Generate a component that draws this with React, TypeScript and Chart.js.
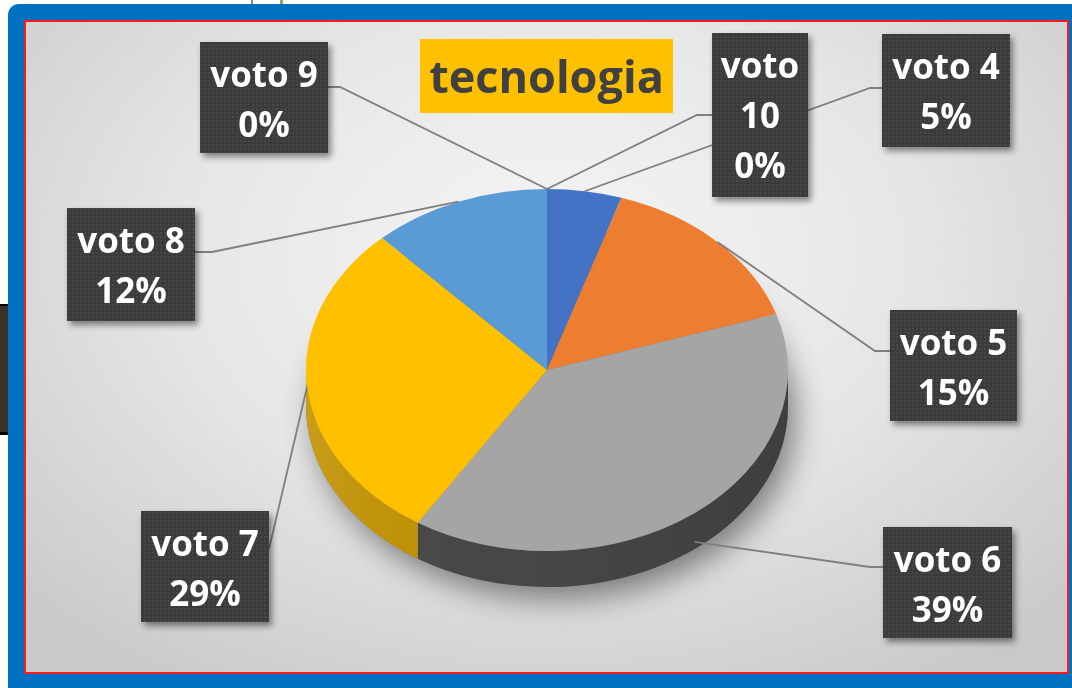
import React, { useEffect, useRef } from "react";
import { Chart, registerables } from "chart.js";

Chart.register(...registerables);

// ---------- data ----------
const categories = ["voto 4", "voto 5", "voto 6", "voto 7", "voto 8", "voto 9", "voto 10"];
const votePercent = [5, 15, 39, 29, 12, 0, 0];
const labelLines = [["voto 4"], ["voto 5"], ["voto 6"], ["voto 7"], ["voto 8"], ["voto 9"], ["voto", "10"]];
const chartTitle = "tecnologia";

// ---------- styles ----------
const sliceColors = ["#4472C4", "#ED7D31", "#A5A5A5", "#FFC000", "#5B9BD5", "#70AD47", "#264478"];
const sideColors = ["#2F5597", "#B35D22", "#474747", "#C29200", "#41719C", "#507E32", "#1B3056"];

// ---------- layout ----------
const TILT = 0.751;
const DEPTH = 36;
const PAD = { left: 306, right: 284, top: 129, bottom: 77 };
const TITLE_BOX = { x: 420, y: 39, w: 253, h: 74, baseline: 93 };
// one entry per category, same order
const labelBoxes = [
  { x: 882, y: 34, w: 128, h: 113, anchor: [882, 88], elbow: [870, 88], onSide: false },
  { x: 890, y: 310, w: 127, h: 111, anchor: [890, 351], elbow: [875, 351], onSide: false },
  { x: 883, y: 527, w: 129, h: 111, anchor: [883, 567], elbow: [870, 567], onSide: true },
  { x: 141, y: 511, w: 128, h: 111, anchor: [269, 549], elbow: null, onSide: false },
  { x: 67, y: 208, w: 128, h: 113, anchor: [195, 252], elbow: [212, 252], onSide: false },
  { x: 200, y: 42, w: 128, h: 111, anchor: [328, 87], elbow: [340, 87], onSide: false },
  { x: 712, y: 33, w: 96, h: 164, anchor: [712, 115], elbow: [697, 115], onSide: false },
];

function makeBoxPattern(ctx: CanvasRenderingContext2D) {
  const c = document.createElement("canvas");
  c.width = 4;
  c.height = 4;
  const p = c.getContext("2d")!;
  p.fillStyle = "#3b3b3b";
  p.fillRect(0, 0, 4, 4);
  p.fillStyle = "#474747";
  p.fillRect(0, 0, 2, 2);
  return ctx.createPattern(c, "repeat") || "#3b3b3b";
}

const pie3d = {
  id: "pie3d",
  beforeDatasetsDraw(chart: any) {
    const ctx: CanvasRenderingContext2D = chart.ctx;
    const arcs = chart.getDatasetMeta(0).data as any[];
    const cx = arcs[0].x;
    const cy = arcs[0].y;
    const r = arcs[0].outerRadius;
    const ry = r * TILT;

    // soft shadow under the pie
    ctx.save();
    ctx.shadowColor = "rgba(0,0,0,0.45)";
    ctx.shadowBlur = 30;
    ctx.shadowOffsetX = 8;
    ctx.shadowOffsetY = 12;
    ctx.fillStyle = "#777";
    ctx.beginPath();
    ctx.ellipse(cx, cy + DEPTH, r, ry, 0, 0, Math.PI * 2);
    ctx.fill();
    ctx.restore();

    // side walls (front half)
    arcs.forEach((arc: any, i: number) => {
      const s = Math.max(arc.startAngle, 0);
      const e = Math.min(arc.endAngle, Math.PI);
      if (e - s <= 1e-4) return;
      ctx.save();
      ctx.beginPath();
      ctx.ellipse(cx, cy, r, ry, 0, s, e, false);
      ctx.ellipse(cx, cy + DEPTH, r, ry, 0, e, s, true);
      ctx.closePath();
      ctx.fillStyle = sideColors[i];
      ctx.fill();
      const g = ctx.createLinearGradient(cx - r, 0, cx + r, 0);
      g.addColorStop(0, "rgba(255,255,255,0.10)");
      g.addColorStop(0.45, "rgba(0,0,0,0)");
      g.addColorStop(1, "rgba(0,0,0,0.12)");
      ctx.fillStyle = g;
      ctx.fill();
      ctx.restore();
    });

    // tilt the top surface
    ctx.save();
    ctx.translate(cx, cy);
    ctx.scale(1, TILT);
    ctx.translate(-cx, -cy);
  },
  afterDatasetsDraw(chart: any) {
    const ctx: CanvasRenderingContext2D = chart.ctx;
    ctx.restore();

    const arcs = chart.getDatasetMeta(0).data as any[];
    const values = chart.data.datasets[0].data as number[];
    const total = values.reduce((a, b) => a + b, 0);

    // leader lines
    ctx.save();
    ctx.strokeStyle = "#7f7f7f";
    ctx.lineWidth = 1.8;
    arcs.forEach((arc: any, i: number) => {
      const box = labelBoxes[i];
      const mid = (arc.startAngle + arc.endAngle) / 2;
      const tx = arc.x + arc.outerRadius * Math.cos(mid);
      let ty = arc.y + arc.outerRadius * Math.sin(mid) * TILT;
      if (box.onSide) ty += DEPTH * 0.8;
      ctx.beginPath();
      ctx.moveTo(box.anchor[0], box.anchor[1]);
      if (box.elbow) ctx.lineTo(box.elbow[0], box.elbow[1]);
      ctx.lineTo(tx, ty);
      ctx.stroke();
    });
    ctx.restore();

    // label boxes
    const pattern = makeBoxPattern(ctx);
    arcs.forEach((_arc: any, i: number) => {
      const box = labelBoxes[i];
      ctx.save();
      ctx.shadowColor = "rgba(0,0,0,0.45)";
      ctx.shadowBlur = 6;
      ctx.shadowOffsetX = 3;
      ctx.shadowOffsetY = 4;
      ctx.fillStyle = pattern as any;
      ctx.fillRect(box.x, box.y, box.w, box.h);
      ctx.restore();

      ctx.save();
      ctx.fillStyle = "#ffffff";
      ctx.font = "bold 35px 'Open Sans', sans-serif";
      ctx.textAlign = "center";
      ctx.textBaseline = "alphabetic";
      const pct = Math.round((values[i] / total) * 100) + "%";
      const lines = [...labelLines[i], pct];
      lines.forEach((t, j) => {
        ctx.fillText(t, box.x + box.w / 2, box.y + 45 + j * 50);
      });
      ctx.restore();
    });

    // title
    ctx.save();
    ctx.fillStyle = "#FFC000";
    ctx.fillRect(TITLE_BOX.x, TITLE_BOX.y, TITLE_BOX.w, TITLE_BOX.h);
    ctx.fillStyle = "#404040";
    ctx.font = "bold 45px 'Open Sans', sans-serif";
    ctx.textAlign = "center";
    ctx.textBaseline = "alphabetic";
    ctx.fillText(chartTitle, TITLE_BOX.x + TITLE_BOX.w / 2, TITLE_BOX.baseline);
    ctx.restore();
  },
};

export default function App() {
  const canvasRef = useRef<HTMLCanvasElement>(null);

  useEffect(() => {
    document.body.style.margin = "0";
    const chart = new Chart(canvasRef.current!, {
      type: "pie",
      data: {
        labels: categories,
        datasets: [
          {
            data: votePercent,
            backgroundColor: sliceColors,
            borderWidth: 0,
          },
        ],
      },
      options: {
        responsive: false,
        animation: false,
        devicePixelRatio: 1,
        events: [],
        layout: { padding: PAD },
        plugins: {
          legend: { display: false },
          tooltip: { enabled: false },
          title: { display: false },
        },
      },
      plugins: [pie3d as any],
    });
    return () => chart.destroy();
  }, []);

  return (
    <div
      style={{
        position: "fixed",
        left: 0,
        top: 0,
        width: 1072,
        height: 688,
        background: "#ffffff",
        overflow: "hidden",
      }}
    >
      <div style={{ position: "absolute", left: 251, top: 0, width: 2, height: 6, background: "#8a8a8a" }} />
      <div style={{ position: "absolute", left: 280, top: 0, width: 3, height: 6, background: "#7ab648" }} />
      <div
        style={{
          position: "absolute",
          left: 0,
          top: 304,
          width: 8,
          height: 131,
          background: "#3a3129",
          borderTop: "2px solid #000",
          borderBottom: "3px solid #000",
          boxSizing: "border-box",
        }}
      />
      <div
        style={{
          position: "absolute",
          left: 8,
          top: 4,
          width: 1090,
          height: 700,
          background: "#0070C0",
          borderTopLeftRadius: 11,
        }}
      />
      <div
        style={{
          position: "absolute",
          left: 24,
          top: 20,
          width: 1045,
          height: 654,
          border: "2px solid #ff1a1a",
          boxSizing: "border-box",
          background:
            "radial-gradient(70% 78% at 50% 36%, #f5f5f5 0%, #e6e6e6 50%, #c9c9c9 100%)",
        }}
      />
      <canvas
        ref={canvasRef}
        width={1072}
        height={688}
        style={{ position: "absolute", left: 0, top: 0, display: "block" }}
      />
    </div>
  );
}
